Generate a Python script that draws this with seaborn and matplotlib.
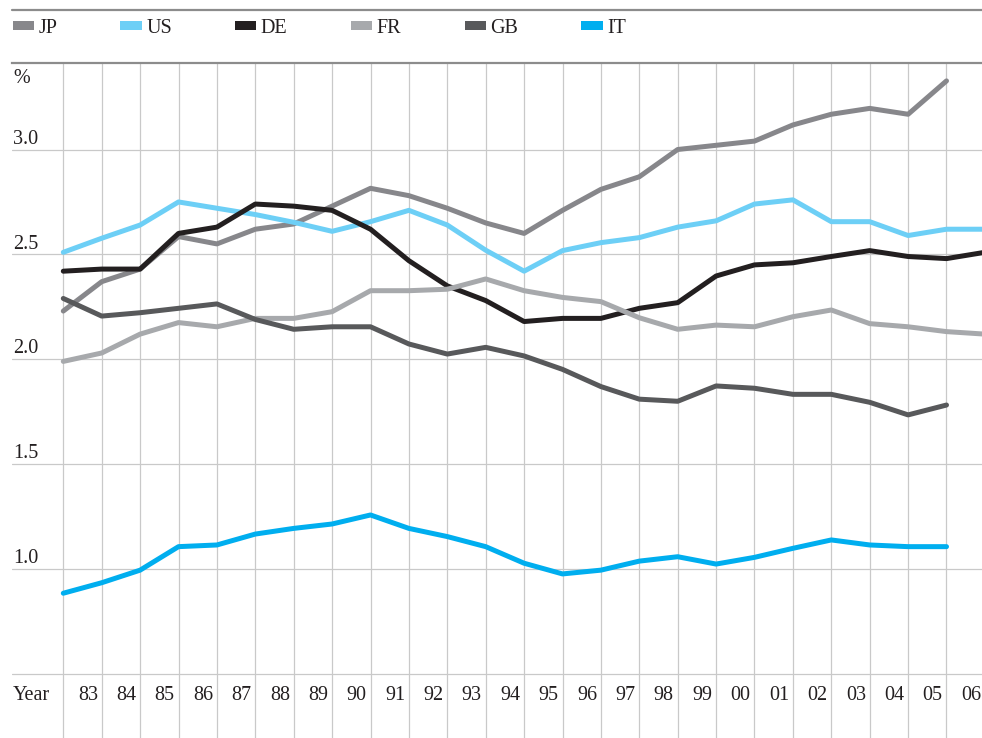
import numpy as np
import pandas as pd
import matplotlib
matplotlib.use("Agg")
import matplotlib.pyplot as plt
from matplotlib.patches import Patch
from matplotlib.lines import Line2D
import seaborn as sns

# year labels shown between the grid lines
year_labels = ["83", "84", "85", "86", "87", "88", "89", "90", "91", "92", "93", "94",
               "95", "96", "97", "98", "99", "00", "01", "02", "03", "04", "05", "06"]

# values at each grid line (%)
jp = [2.23, 2.37, 2.43, 2.585, 2.55, 2.62, 2.645, 2.73, 2.815, 2.78, 2.72, 2.65,
      2.60, 2.71, 2.81, 2.87, 3.00, 3.02, 3.04, 3.117, 3.168, 3.196, 3.168, 3.327]
us = [2.51, 2.577, 2.64, 2.75, 2.72, 2.69, 2.653, 2.61, 2.656, 2.71, 2.64, 2.52,
      2.42, 2.518, 2.556, 2.58, 2.63, 2.66, 2.74, 2.76, 2.656, 2.656, 2.59, 2.62, 2.62]
de = [2.42, 2.43, 2.43, 2.60, 2.63, 2.74, 2.73, 2.71, 2.62, 2.47, 2.35, 2.28,
      2.18, 2.195, 2.195, 2.243, 2.27, 2.397, 2.45, 2.46, 2.49, 2.518, 2.49, 2.48, 2.51]
fr = [1.99, 2.03, 2.12, 2.175, 2.155, 2.195, 2.195, 2.227, 2.327, 2.327, 2.334, 2.383,
      2.327, 2.295, 2.275, 2.198, 2.143, 2.163, 2.155, 2.203, 2.235, 2.17, 2.155, 2.132, 2.12]
gb = [2.29, 2.206, 2.222, 2.243, 2.264, 2.19, 2.143, 2.155, 2.155, 2.073, 2.025, 2.057,
      2.016, 1.952, 1.87, 1.81, 1.80, 1.873, 1.862, 1.833, 1.833, 1.795, 1.735, 1.782]
it = [0.885, 0.935, 0.995, 1.107, 1.115, 1.167, 1.194, 1.215, 1.258, 1.194, 1.155, 1.107,
      1.028, 0.977, 0.995, 1.038, 1.059, 1.024, 1.056, 1.099, 1.139, 1.115, 1.107, 1.107]

countries = ["JP", "US", "DE", "FR", "GB", "IT"]
series = [jp, us, de, fr, gb, it]
colors = {"JP": "#87878b", "US": "#6dcff6", "DE": "#231f20",
          "FR": "#a7a9ac", "GB": "#58595b", "IT": "#00aeef"}

rows = []
for c, vals in zip(countries, series):
    for i, v in enumerate(vals):
        rows.append({"x": i, "value": v, "country": c})
df = pd.DataFrame(rows)

sns.set_style("white")
plt.rcParams["font.family"] = ["Liberation Serif", "DejaVu Serif"]
text_color = "#231f20"
fs = 14.5

fig = plt.figure(figsize=(9.82, 7.38), dpi=100)
W, H = 982, 738
ax = fig.add_axes([12 / W, 0, 1 - 12 / W, 1 - 63.3 / H])

# grid
px_x = 38.4
x0_px = 63.3
ax.set_xlim(-(x0_px - 12) / px_x, (W - x0_px) / px_x)
px_y = 209.8
ytop = 3.0 + (149.5 - 63.3) / px_y
ybot = 0.5 - (H - 674) / px_y
ax.set_ylim(ybot, ytop)

for k in range(len(year_labels) + 1):
    ax.axvline(k, color="#c9c9c9", lw=0.9, zorder=0)
for yv in [0.5, 1.0, 1.5, 2.0, 2.5, 3.0]:
    ax.axhline(yv, color="#c9c9c9", lw=0.9, zorder=0)

sns.lineplot(data=df, x="x", y="value", hue="country", hue_order=countries,
             palette=colors, estimator=None, sort=True, legend=False,
             linewidth=3.6, ax=ax)
for ln in ax.get_lines():
    ln.set_solid_capstyle("round")

for s in ["left", "right", "bottom"]:
    ax.spines[s].set_visible(False)
ax.spines["top"].set_color("#8c8c8c")
ax.spines["top"].set_linewidth(1.6)
ax.set_xticks([])
ax.set_yticks([])
ax.set_xlabel("")
ax.set_ylabel("")

# y labels sitting on the lines
tr = matplotlib.transforms.blended_transform_factory(ax.transAxes, ax.transData)
for yv in [1.0, 1.5, 2.0, 2.5, 3.0]:
    ax.text(0.001, yv + 0.004, f"{yv:.1f}", transform=tr, ha="left", va="bottom",
            fontsize=fs, color=text_color)
ax.text(0.001, ytop - 0.025, "%", transform=tr, ha="left", va="top",
        fontsize=fs, color=text_color)

# year row
ylab = 0.5 - 22 / px_y
ax.text(0.001, ylab, "Year", transform=tr, ha="left", va="center",
        fontsize=fs, color=text_color)
for k, lab in enumerate(year_labels):
    ax.text(k + 0.9, ylab, lab, ha="right", va="center", fontsize=fs,
            color=text_color, clip_on=False)

# top rule above legend
fig.add_artist(Line2D([12 / W, 1], [1 - 10 / H, 1 - 10 / H], color="#8c8c8c", lw=1.6))

handles = [Patch(facecolor=colors[c], edgecolor="none", label=c) for c in countries]
fig.legend(handles=handles, loc="center left", bbox_to_anchor=(12.6 / W, 1 - 28.5 / H),
           ncol=6, frameon=False, borderpad=0, borderaxespad=0, handlelength=1.05,
           handleheight=0.32, handletextpad=0.22, columnspacing=3.15,
           prop={"size": fs}, labelcolor=text_color)

fig.savefig("out.png", dpi=100)
